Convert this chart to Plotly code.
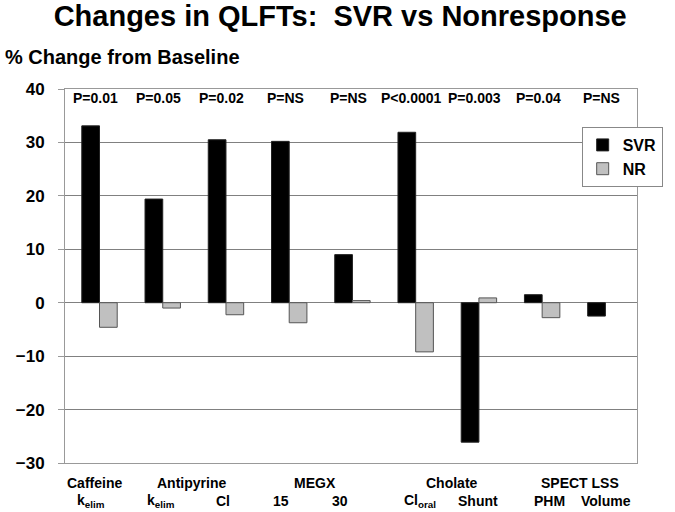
import plotly.graph_objects as go

# ---- data ----
categories = ["Caffeine kelim", "Antipyrine kelim", "Antipyrine Cl", "MEGX 15", "MEGX 30",
              "Cholate Cl oral", "Cholate Shunt", "SPECT LSS PHM", "SPECT LSS Volume"]
sub_labels = ["k<sub>elim</sub>", "k<sub>elim</sub>", "Cl", "15", "30",
              "Cl<sub>oral</sub>", "Shunt", "PHM", "Volume"]
groups = ["Caffeine", "Antipyrine", "MEGX", "Cholate", "SPECT LSS"]
group_members = [[0], [1, 2], [3, 4], [5, 6], [7, 8]]
svr = [33.1, 19.4, 30.5, 30.2, 9.0, 31.9, -26.1, 1.5, -2.5]
nr = [-4.6, -1.0, -2.25, -3.75, 0.4, -9.2, 0.9, -2.8, None]
p_values = ["P=0.01", "P=0.05", "P=0.02", "P=NS", "P=NS", "P<0.0001", "P=0.003", "P=0.04", "P=NS"]
y_ticks = [40, 30, 20, 10, 0, -10, -20, -30]

FONT = "Liberation Sans, Arial, Helvetica, sans-serif"

fig = go.Figure()
fig.add_trace(go.Bar(x=categories, y=svr, name="SVR",
                     marker=dict(color="#000000", line=dict(color="#222222", width=1))))
fig.add_trace(go.Bar(x=categories, y=nr, name="NR",
                     marker=dict(color="#c0c0c0", line=dict(color="#555555", width=1))))

annotations = []
# p-values
for i, p in enumerate(p_values):
    annotations.append(dict(x=i, y=38.3, xref="x", yref="y", text=p, showarrow=False,
                            xshift=-4, font=dict(family=FONT, size=14, color="black", weight="bold")))
# sub labels
sub_shift = [-9, -2, -3, -8, -12, 4, -1, 7, 1]
for i, s in enumerate(sub_labels):
    annotations.append(dict(x=i, y=-(501 - 463) / 374, xref="x", yref="paper", text=s,
                            showarrow=False, yanchor="middle", xshift=sub_shift[i],
                            font=dict(family=FONT, size=14, color="black", weight="bold")))
# group labels
grp_shift = [-5, -3, -6, 5, 6]
for g, mem, sh in zip(groups, group_members, grp_shift):
    annotations.append(dict(x=sum(mem) / len(mem), y=-(483 - 463) / 374, xref="x", yref="paper",
                            text=g, showarrow=False, yanchor="middle", xshift=sh,
                            font=dict(family=FONT, size=14, color="black", weight="bold")))
# y-axis title
annotations.append(dict(x=(2 - 65) / 579, y=(463 - 57) / 374, xref="paper", yref="paper",
                        text="% Change from Baseline", showarrow=False, xanchor="left",
                        yanchor="middle",
                        font=dict(family=FONT, size=20, color="black", weight="bold")))

fig.update_layout(
    width=675, height=512,
    margin=dict(l=65, r=31, t=89, b=49),
    paper_bgcolor="white", plot_bgcolor="white",
    barmode="group", bargap=0.44, bargroupgap=0,
    title=dict(text="Changes in QLFTs:&nbsp; SVR vs Nonresponse", x=0.504, xref="container",
               xanchor="center", y=1 - 16 / 512, yref="container", yanchor="middle",
               font=dict(family=FONT, size=29, color="black", weight="bold")),
    legend=dict(x=(670 - 65) / 579, xanchor="right", y=(463 - 127) / 374, yanchor="top",
                bgcolor="white", bordercolor="#888888", borderwidth=1,
                font=dict(family=FONT, size=16, color="black", weight="bold"),
                itemwidth=30, tracegroupgap=0),
    annotations=annotations,
    showlegend=True,
)
fig.update_xaxes(showticklabels=False, ticks="", showgrid=False,
                 showline=True, linecolor="#999999", linewidth=1, mirror=True)
fig.update_yaxes(range=[-30, 40], tickvals=y_ticks, ticks="outside", ticklen=6,
                 tickcolor="#999999", showgrid=True, gridcolor="#808080", gridwidth=1,
                 showline=True, linecolor="#999999", linewidth=1, mirror=True,
                 zeroline=True, zerolinecolor="#808080", zerolinewidth=1,
                 ticklabelstandoff=10,
                 tickfont=dict(family=FONT, size=17, color="black", weight="bold"))

fig.write_html("out.html", config={"displayModeBar": False},
               post_script="document.body.style.margin='0';")
